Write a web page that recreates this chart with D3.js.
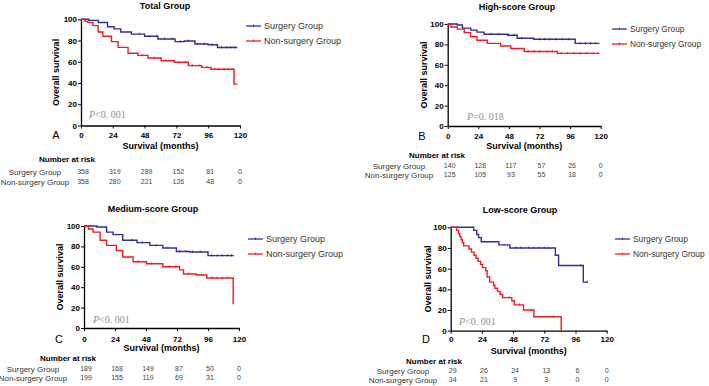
<!DOCTYPE html>
<html>
<head>
<meta charset="utf-8">
<script src="https://d3js.org/d3.v7.min.js"></script>
<style>
  body { margin: 0; background: #fff; }
  svg { font-family: "Liberation Sans", Arial, sans-serif; }
  .tick text { font-weight: bold; font-size: 8px; }
</style>
</head>
<body>
<svg width="709" height="386"></svg>
<script>
// ---- data: [month, survival %] step points ----
var xTicks = [0, 24, 48, 72, 96, 120];
var yTicks = [0, 20, 40, 60, 80, 100];
var groupNames = ["Surgery Group", "Non-surgery Group"];

var totalSurgery = [[0,100],[6,99],[13,97],[20,93],[25,91],[30,88],[38,86],[48,84],[58,81.5],[71,79],[78,79.5],[86,76.7],[96,76],[103,73.5],[118,73.5]];
var totalNonSurgery = [[0,100],[3,98],[5,97],[9,94],[13,88],[16.5,84],[23,79],[28,73.6],[35.5,68],[43,66],[50.5,63.6],[60.5,61],[70.5,59.5],[81,56.4],[91,54.7],[98,52.9],[115.5,39],[118,39]];
var highSurgery = [[0,100],[7.5,99],[11.5,96],[18,94],[23,92],[28.5,90],[47,89],[54.5,86],[67.5,85],[100,81],[119,81]];
var highNonSurgery = [[0,100],[2.5,97],[7.5,95],[13,91.5],[18,87.6],[23,84],[31,81],[41.5,78.4],[49.5,76],[60,73],[86,71.2],[119,71.2]];
var mediumSurgery = [[0,100],[10,99],[17.5,94],[22.5,91.5],[30,86],[41,83.7],[51,81],[61,78.4],[71.5,75],[82,74.5],[96,71],[116,71]];
var mediumNonSurgery = [[0,100],[3.5,97],[7,94],[12.5,86],[17.5,81],[25,76],[30,69.6],[38,65],[48.5,63],[61,60],[74,57],[77,53],[87,52],[95,49],[115.5,24],[116,24]];
var lowSurgery = [[0,100],[17.7,97],[20,93],[21.5,90],[23.5,86],[37,83],[45.5,80],[80.5,73],[83,63],[102,47],[105.5,47]];
var lowNonSurgery = [[0,100],[4.5,97],[6,94],[7,91],[8,88],[9,85],[10,82],[14,79],[16,76],[18,73],[19.5,70],[21,67],[23,64],[24.5,61],[27,58],[28,52],[30,47],[33,44],[34,41],[36,38],[38,35],[40,32],[47,29],[49,25],[56,20],[64,13.5],[85,0]];

// censored observations (months)
var totalSurgeryCens = [44, 52, 57, 63, 69, 75, 81, 88, 93, 99, 106, 110, 113, 116];
var totalNonSurgeryCens = [46, 55, 64, 74, 79, 84, 89, 95, 101, 104, 108, 111, 114];
var highSurgeryCens = [34, 40, 48, 52, 58, 72, 76, 80, 85, 90, 95, 104, 108, 112, 116];
var highNonSurgeryCens = [63, 68, 72, 78, 82, 89, 94, 99, 104, 109, 114, 118];
var mediumSurgeryCens = [37, 45, 56, 65, 74, 79, 84, 90, 99, 103, 107, 111, 114];
var mediumNonSurgeryCens = [42, 52, 66, 71, 81, 91, 99, 103, 107, 111];
var lowSurgeryCens = [50, 54, 60, 64, 68, 72, 75, 100, 105];
var lowNonSurgeryCens = [45, 53, 62, 79];

var totalRisk = [[358, 319, 289, 152, 81, 0], [358, 280, 221, 126, 48, 0]];
var highRisk = [[140, 128, 117, 57, 26, 0], [125, 105, 93, 55, 18, 0]];
var mediumRisk = [[189, 168, 149, 87, 50, 0], [199, 155, 119, 69, 31, 0]];
var lowRisk = [[29, 26, 24, 13, 6, 0], [34, 21, 9, 3, 0, 0]];

var titles = ["Total Group", "High-score Group", "Medium-score Group", "Low-score Group"];
var letters = ["A", "B", "C", "D"];
var pTexts = ["<0. 001", "=0. 018", "<0. 001", "<0. 001"];

var blue = "#2e3192";
var red = "#ed1c24";

// ---- layout per panel ----
var panels = [
  {x0: 81, x1: 240, y0: 125.5, y1: 19.3, titleX: 165, titleY: 6, ylabX: 56, legX: 246, legY: 26, legFont: 9,
   letX: 56, xTickY: 135, xTitleY: 146, nrX: 67, nrY: 159, rowX: 35, rowY: 172, rowGap: 10, pX: 89, pY: 114,
   series: [totalSurgery, totalNonSurgery], cens: [totalSurgeryCens, totalNonSurgeryCens], risk: totalRisk},
  {x0: 447.7, x1: 600.7, y0: 126, y1: 24, titleX: 517, titleY: 7, ylabX: 424, legX: 612, legY: 29, legFont: 8.3,
   letX: 422, xTickY: 136, xTitleY: 146, nrX: 437, nrY: 155, rowX: 399, rowY: 166, rowGap: 9, pX: 467, pY: 116,
   series: [highSurgery, highNonSurgery], cens: [highSurgeryCens, highNonSurgeryCens], risk: highRisk},
  {x0: 84, x1: 239, y0: 328, y1: 226, titleX: 153, titleY: 209, ylabX: 60, legX: 248, legY: 239, legFont: 9,
   letX: 59, xTickY: 339, xTitleY: 348, nrX: 68, nrY: 358, rowX: 33, rowY: 369, rowGap: 9, pX: 93, pY: 319,
   series: [mediumSurgery, mediumNonSurgery], cens: [mediumSurgeryCens, mediumNonSurgeryCens], risk: mediumRisk},
  {x0: 450.7, x1: 606.7, y0: 330.7, y1: 227.3, titleX: 520, titleY: 210, ylabX: 428, legX: 615, legY: 239, legFont: 8.4,
   letX: 426, xTickY: 339, xTitleY: 351, nrX: 434, nrY: 361, rowX: 403, rowY: 371, rowGap: 9, pX: 459, pY: 321,
   series: [lowSurgery, lowNonSurgery], cens: [lowSurgeryCens, lowNonSurgeryCens], risk: lowRisk}
];

var svg = d3.select("svg");

// step lookup for censor marks
function survAt(series, t) {
  var v = series[0][1];
  series.forEach(function(p) { if (p[0] <= t) v = p[1]; });
  return v;
}

panels.forEach(function(p, i) {
  var x = d3.scaleLinear().domain([0, 120]).range([p.x0, p.x1]);
  var y = d3.scaleLinear().domain([0, 100]).range([p.y0, p.y1]);
  var g = svg.append("g");
  var colors = [blue, red];

  // title
  g.append("text").attr("x", p.titleX).attr("y", p.titleY).attr("dy", "0.35em")
    .attr("text-anchor", "middle").attr("font-weight", "bold").attr("font-size", "9px")
    .text(titles[i]);

  // axes
  g.append("g").attr("transform", "translate(0," + p.y0 + ")")
    .call(d3.axisBottom(x).tickValues(xTicks).tickSize(3).tickSizeOuter(0))
    .call(function(a) {
      a.select(".domain").attr("stroke-width", 1.3);
      a.selectAll(".tick text").attr("y", p.xTickY - p.y0).attr("dy", "0.35em");
    });
  g.append("g").attr("transform", "translate(" + p.x0 + ",0)")
    .call(d3.axisLeft(y).tickValues(yTicks).tickSize(3).tickSizeOuter(0))
    .call(function(a) {
      a.select(".domain").attr("stroke-width", 1.3);
      a.selectAll(".tick text").attr("x", -4);
    });

  // axis titles
  g.append("text").attr("transform", "translate(" + p.ylabX + "," + (p.y0 + p.y1) / 2 + ") rotate(-90)")
    .attr("text-anchor", "middle").attr("dy", "0.35em").attr("font-weight", "bold").attr("font-size", "9px")
    .text("Overall survival");
  g.append("text").attr("x", (p.x0 + p.x1) / 2).attr("y", p.xTitleY).attr("dy", "0.35em")
    .attr("text-anchor", "middle").attr("font-weight", "bold").attr("font-size", "9px")
    .text("Survival (months)");
  g.append("text").attr("x", p.letX).attr("y", p.xTickY).attr("dy", "0.35em")
    .attr("text-anchor", "middle").attr("font-size", "11px").text(letters[i]);

  // curves
  var line = d3.line().x(function(d) { return x(d[0]); }).y(function(d) { return y(d[1]); })
    .curve(d3.curveStepAfter);
  p.series.forEach(function(s, k) {
    g.append("path").datum(s).attr("d", line).attr("fill", "none")
      .attr("stroke", colors[k]).attr("stroke-width", 1.4);
    g.selectAll(".c" + k).data(p.cens[k]).enter().append("line")
      .attr("x1", function(d) { return x(d); }).attr("x2", function(d) { return x(d); })
      .attr("y1", function(d) { return y(survAt(s, d)) - 1.5; })
      .attr("y2", function(d) { return y(survAt(s, d)) + 1; })
      .attr("stroke", colors[k]).attr("stroke-width", 0.8);
  });

  // p value
  var pt = g.append("text").attr("x", p.pX).attr("y", p.pY).attr("dy", "0.35em")
    .attr("font-family", "'Liberation Serif', 'DejaVu Serif', serif").attr("font-size", "10px").attr("fill", "#8c8c8c");
  pt.append("tspan").attr("font-style", "italic").text("P");
  pt.append("tspan").text(pTexts[i]);

  // legend
  groupNames.forEach(function(n, k) {
    var ly = p.legY + k * 15;
    g.append("line").attr("x1", p.legX).attr("x2", p.legX + 15).attr("y1", ly).attr("y2", ly)
      .attr("stroke", colors[k]).attr("stroke-width", 1.3);
    g.append("line").attr("x1", p.legX + 7.5).attr("x2", p.legX + 7.5).attr("y1", ly - 1.5).attr("y2", ly + 1)
      .attr("stroke", colors[k]).attr("stroke-width", 0.8);
    g.append("text").attr("x", p.legX + 18).attr("y", ly).attr("dy", "0.35em")
      .attr("font-size", p.legFont + "px").attr("fill", "#333").text(n);
  });

  // number at risk table
  g.append("text").attr("x", p.nrX).attr("y", p.nrY).attr("dy", "0.35em")
    .attr("text-anchor", "middle").attr("font-weight", "bold").attr("font-size", "8px").text("Number at risk");
  groupNames.forEach(function(n, k) {
    var ry = p.rowY + k * p.rowGap;
    g.append("text").attr("x", p.rowX).attr("y", ry).attr("dy", "0.35em")
      .attr("text-anchor", "middle").attr("font-size", "8px").attr("fill", "#333").text(n);
    g.selectAll(".r" + k).data(p.risk[k]).enter().append("text")
      .attr("x", function(d, j) { return x(xTicks[j]) + (j < 5 ? 2 : 0); })
      .attr("y", ry).attr("dy", "0.35em").attr("text-anchor", "middle")
      .attr("font-size", "7px").attr("fill", "#444").text(function(d) { return d; });
  });
});
</script>
</body>
</html>
